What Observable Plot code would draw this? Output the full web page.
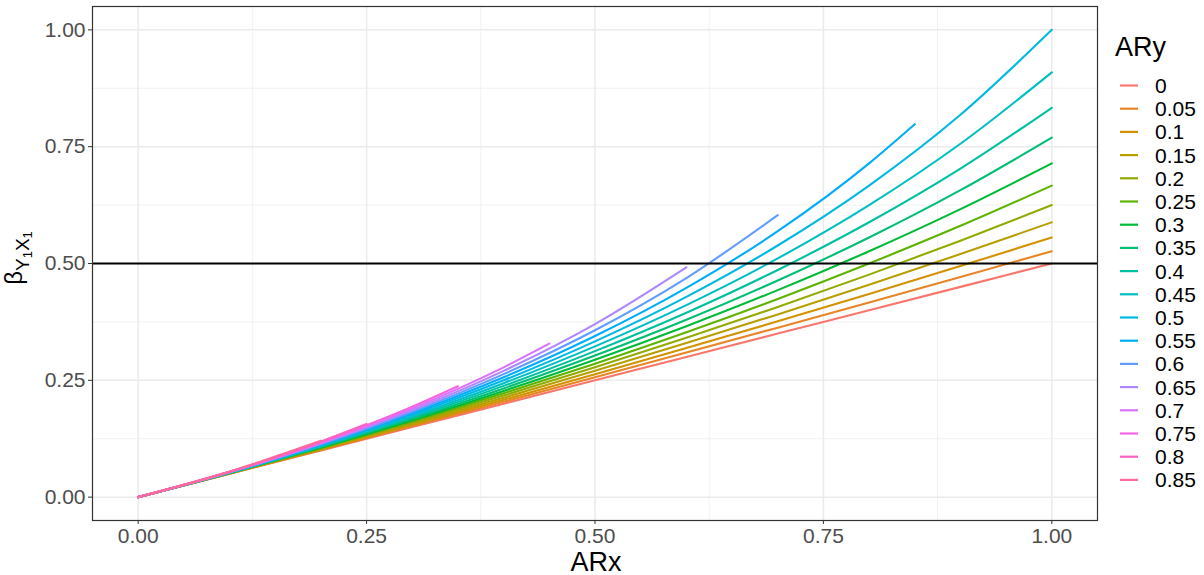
<!DOCTYPE html>
<html>
<head>
<meta charset="utf-8">
<script src="https://cdn.jsdelivr.net/npm/d3@7"></script>
<script src="https://cdn.jsdelivr.net/npm/@observablehq/plot@0.6"></script>
<style>
  html, body { margin: 0; padding: 0; background: white; }
  #chart { width: 1204px; height: 575px; }
</style>
</head>
<body>
<div id="chart"></div>
<script>
// ---- data ----
const aryLevels = ["0","0.05","0.1","0.15","0.2","0.25","0.3","0.35","0.4","0.45","0.5","0.55","0.6","0.65","0.7","0.75","0.8","0.85"];
const arxGrid = [0, 0.1, 0.2, 0.3, 0.4, 0.5, 0.6, 0.7, 0.8, 0.9, 1.0];
const arxEnd = [1, 1, 1, 1, 1, 1, 1, 1, 1, 1, 1, 0.85, 0.7, 0.6, 0.45, 0.35, 0.25, 0.2];

const beta_000 = [0, 0.05, 0.1, 0.15, 0.2, 0.25, 0.3, 0.35, 0.4, 0.45, 0.5];
const beta_005 = [0, 0.0503, 0.1010, 0.1523, 0.2041, 0.2564, 0.3093, 0.3627, 0.4167, 0.4712, 0.5263];
const beta_010 = [0, 0.0505, 0.1020, 0.1546, 0.2083, 0.2632, 0.3191, 0.3763, 0.4348, 0.4945, 0.5556];
const beta_015 = [0, 0.0508, 0.1031, 0.1571, 0.2128, 0.2703, 0.3297, 0.3911, 0.4545, 0.5202, 0.5882];
const beta_020 = [0, 0.0510, 0.1042, 0.1596, 0.2174, 0.2778, 0.3409, 0.4070, 0.4762, 0.5488, 0.6250];
const beta_025 = [0, 0.0513, 0.1053, 0.1622, 0.2222, 0.2857, 0.3529, 0.4242, 0.5000, 0.5806, 0.6667];
const beta_030 = [0, 0.0515, 0.1064, 0.1648, 0.2273, 0.2941, 0.3659, 0.4430, 0.5263, 0.6164, 0.7143];
const beta_035 = [0, 0.0518, 0.1075, 0.1676, 0.2326, 0.3030, 0.3797, 0.4636, 0.5556, 0.6569, 0.7692];
const beta_040 = [0, 0.0521, 0.1087, 0.1705, 0.2381, 0.3125, 0.3947, 0.4861, 0.5882, 0.7031, 0.8333];
const beta_045 = [0, 0.0524, 0.1099, 0.1734, 0.2439, 0.3226, 0.4110, 0.5109, 0.6250, 0.7563, 0.9091];
const beta_050 = [0, 0.0526, 0.1111, 0.1765, 0.2500, 0.3333, 0.4286, 0.5385, 0.6667, 0.8182, 1.0000];
const beta_055 = [0, 0.0529, 0.1124, 0.1796, 0.2564, 0.3448, 0.4478, 0.5691, 0.7143, 0.7981];
const beta_060 = [0, 0.0532, 0.1136, 0.1829, 0.2632, 0.3571, 0.4688, 0.6034];
const beta_065 = [0, 0.0535, 0.1149, 0.1863, 0.2703, 0.3704, 0.4918];
const beta_070 = [0, 0.0538, 0.1163, 0.1899, 0.2778, 0.3285];
const beta_075 = [0, 0.0541, 0.1176, 0.1935, 0.2373];
const beta_080 = [0, 0.0543, 0.1190, 0.1563];
const beta_085 = [0, 0.0546, 0.1205];

const betaSeries = [beta_000, beta_005, beta_010, beta_015, beta_020, beta_025, beta_030, beta_035, beta_040,
  beta_045, beta_050, beta_055, beta_060, beta_065, beta_070, beta_075, beta_080, beta_085];

const majorTicks = [0, 0.25, 0.5, 0.75, 1];
const minorTicks = [0.125, 0.375, 0.625, 0.875];
const hlineValue = [0.5];

// ---- build the table ----
const rows = [];
aryLevels.forEach((ary, i) => {
  const end = arxEnd[i];
  const xs = arxGrid.filter(x => x <= end + 1e-9);
  if (xs[xs.length - 1] < end - 1e-9) xs.push(end);
  xs.forEach((x, j) => rows.push({ary, arx: x, beta: betaSeries[i][j]}));
});

// ggplot2 default hue palette (polarLUV hcl, c=100, l=65)
function hclR(h, c, l) {
  const Xn = 95.047, Yn = 100, Zn = 108.883;
  const hr = h * Math.PI / 180;
  const U = c * Math.cos(hr), V = c * Math.sin(hr);
  const Y = Yn * (l > 7.999592 ? Math.pow((l + 16) / 116, 3) : l / 903.3);
  const den = Xn + 15 * Yn + 3 * Zn;
  const uN = 4 * Xn / den, vN = 9 * Yn / den;
  const u = U / (13 * l) + uN, v = V / (13 * l) + vN;
  const X = 9 * Y * u / (4 * v);
  const Z = -X / 3 - 5 * Y + 3 * Y / v;
  const lin = [
    ( 3.240479 * X - 1.537150 * Y - 0.498535 * Z) / Yn,
    (-0.969256 * X + 1.875992 * Y + 0.041556 * Z) / Yn,
    ( 0.055648 * X - 0.204043 * Y + 1.057311 * Z) / Yn
  ];
  const g = lin.map(t => t <= 0.0031308 ? 12.92 * t : 1.055 * Math.pow(t, 1 / 2.4) - 0.055)
               .map(t => Math.round(Math.max(0, Math.min(1, t)) * 255));
  return d3.rgb(g[0], g[1], g[2]).formatHex();
}
const colors = aryLevels.map((_, i) => hclR(15 + 20 * i, 100, 65));

const FONT = "'Liberation Sans', Arial, Helvetica, sans-serif";
const fmt = d3.format(".2f");

const svgEl = Plot.plot({
  width: 1204,
  height: 575,
  marginLeft: 92,
  marginRight: 107,
  marginTop: 6,
  marginBottom: 55,
  style: {fontFamily: FONT, background: "white", overflow: "visible"},
  x: {domain: [-0.05, 1.05], label: null},
  y: {domain: [-0.05, 1.05], label: null},
  color: {domain: aryLevels, range: colors},
  marks: [
    Plot.gridX(minorTicks, {stroke: "#EEEEEE", strokeOpacity: 1, strokeWidth: 0.8}),
    Plot.gridY(minorTicks, {stroke: "#EEEEEE", strokeOpacity: 1, strokeWidth: 0.8}),
    Plot.gridX(majorTicks, {stroke: "#EBEBEB", strokeOpacity: 1, strokeWidth: 1.5}),
    Plot.gridY(majorTicks, {stroke: "#EBEBEB", strokeOpacity: 1, strokeWidth: 1.5}),
    Plot.line(rows, {x: "arx", y: "beta", z: "ary", stroke: "ary", strokeWidth: 2.1, curve: "monotone-x"}),
    Plot.ruleY(hlineValue, {stroke: "black", strokeWidth: 2}),
    Plot.frame({stroke: "#333333", strokeWidth: 1.2}),
    Plot.axisX({ticks: majorTicks, tickFormat: fmt, tickSize: 4, tickPadding: 4, fontSize: 21,
      stroke: "#333333", fill: "#4D4D4D", label: null}),
    Plot.axisY({ticks: majorTicks, tickFormat: fmt, tickSize: 4, tickPadding: 3, fontSize: 21,
      stroke: "#333333", fill: "#4D4D4D", label: null})
  ]
});
document.getElementById("chart").appendChild(svgEl);

const svg = d3.select(svgEl);

// x axis title
svg.append("text")
  .attr("x", 596).attr("y", 571)
  .attr("text-anchor", "middle")
  .attr("font-family", FONT).attr("font-size", 27).attr("fill", "black")
  .text("ARx");

// y axis title: β with subscript Y1X1
const yt = svg.append("text")
  .attr("transform", "translate(22,258) rotate(-90)")
  .attr("text-anchor", "middle")
  .attr("font-family", FONT).attr("fill", "black").attr("font-size", 24);
yt.append("tspan").text("β");
yt.append("tspan").attr("font-size", 19).attr("dy", 7).text("Y");
yt.append("tspan").attr("font-size", 13).attr("dy", 3).text("1");
yt.append("tspan").attr("font-size", 19).attr("dy", -3).text("X");
yt.append("tspan").attr("font-size", 13).attr("dy", 3).text("1");

// legend
const lg = svg.append("g").attr("font-family", FONT).attr("text-anchor", "start");
lg.append("text").attr("x", 1115).attr("y", 56)
  .attr("font-size", 27).attr("fill", "black").text("ARy");
aryLevels.forEach((lab, i) => {
  const cy = 85.5 + 23.2 * i;
  lg.append("line").attr("x1", 1120).attr("x2", 1138).attr("y1", cy).attr("y2", cy)
    .attr("stroke", colors[i]).attr("stroke-width", 2.2);
  lg.append("text").attr("x", 1155).attr("y", cy).attr("dy", "0.36em")
    .attr("font-size", 21).attr("fill", "black").text(lab);
});
</script>
</body>
</html>
